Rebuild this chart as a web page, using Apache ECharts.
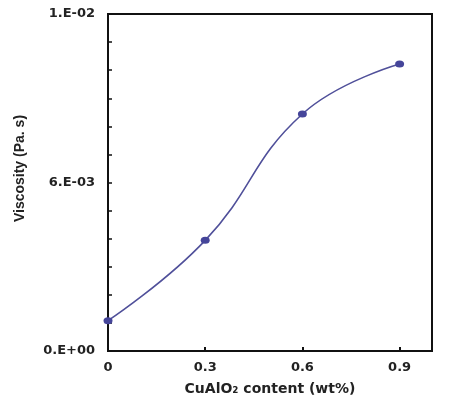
<!DOCTYPE html>
<html>
<head>
<meta charset="utf-8">
<script src="https://cdn.jsdelivr.net/npm/echarts@6/dist/echarts.min.js"></script>
<style>html,body{margin:0;padding:0;background:#fff;}#c{width:450px;height:398px;}</style>
</head>
<body>
<div id="c"></div>
<script>
const contents = [0, 0.3, 0.6, 0.9];
const viscosity = [0.00108, 0.00394, 0.00844, 0.01022];
const xTicks = [0, 0.3, 0.6, 0.9];
const yTickLabels = {0: '0.E+00', 0.006: '6.E-03', 0.012: '1.E-02'};

const chart = echarts.init(document.getElementById('c'));
chart.setOption({
  backgroundColor: '#fff',
  animation: false,
  grid: {left: 108, top: 14, right: 18, bottom: 47, outerBoundsMode: 'none', containLabel: false,
    show: true, borderColor: '#111', borderWidth: 2, backgroundColor: 'transparent'},
  xAxis: {
    type: 'value', min: 0, max: 1.0,
    name: 'CuAlO₂ content (wt%)', nameLocation: 'middle', nameGap: 31,
    nameTextStyle: {fontFamily: 'DejaVu Sans', fontWeight: 'bold', fontSize: 14, color: '#222'},
    axisLine: {show: true, lineStyle: {color: '#111', width: 2}},
    axisTick: {show: true, inside: true, length: 4, customValues: xTicks, lineStyle: {color: '#111', width: 2}},
    axisLabel: {customValues: xTicks, margin: 10, fontFamily: 'DejaVu Sans', fontWeight: 'bold', fontSize: 13, color: '#222', formatter: v => String(v)},
    splitLine: {show: false}
  },
  yAxis: {
    type: 'value', min: 0, max: 0.012, interval: 0.006,
    name: 'Viscosity (Pa. s)', nameLocation: 'middle', nameGap: 81,
    nameTextStyle: {fontFamily: 'Liberation Sans', fontWeight: 'bold', fontSize: 14, color: '#222', padding: [0, 0, 0, 28]},
    axisLine: {show: true, lineStyle: {color: '#111', width: 2}},
    axisTick: {show: true, inside: true, length: 4, lineStyle: {color: '#111', width: 1.5}},
    minorTick: {show: true, splitNumber: 6, length: 4, lineStyle: {color: '#111', width: 1.5}},
    axisLabel: {margin: 13, fontFamily: 'DejaVu Sans', fontWeight: 'bold', fontSize: 13, color: '#222',
      formatter: v => yTickLabels[Math.round(v * 1000) / 1000] || ''},
    splitLine: {show: false}
  },
  series: [{
    type: 'line',
    data: contents.map((x, i) => [x, viscosity[i]]),
    smooth: 0.45,
    symbol: 'circle', symbolSize: [9, 7],
    lineStyle: {color: '#50509a', width: 1.6},
    itemStyle: {color: '#45459a'}
  }]
});
</script>
</body>
</html>
